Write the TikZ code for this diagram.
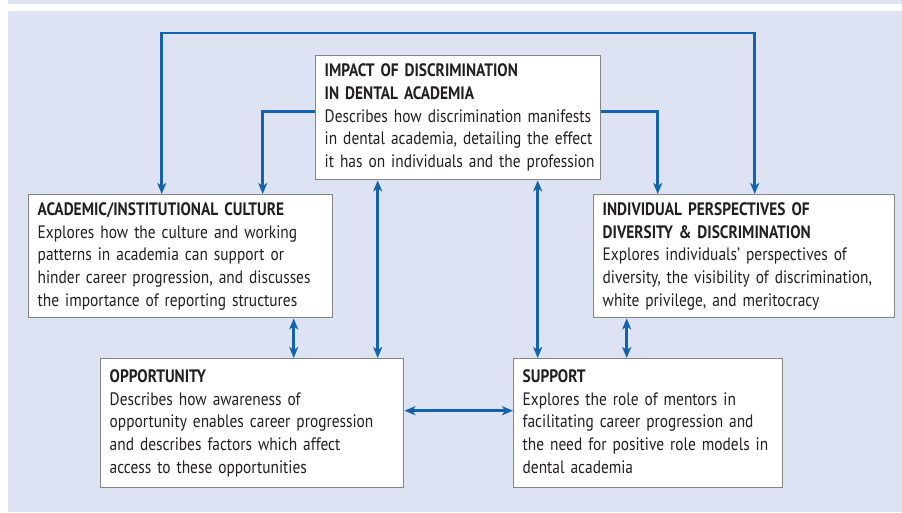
\documentclass[tikz,border=0pt]{standalone}
\usepackage{fontspec}
\setmainfont{PT Sans}[FakeStretch=0.855]
\usepackage{xcolor}
\usepackage{tikz}
\usetikzlibrary{arrows.meta}
\definecolor{panel}{RGB}{221,227,243}
\definecolor{linkblue}{RGB}{18,99,172}
\definecolor{boxgray}{RGB}{132,132,132}
\definecolor{ink}{RGB}{35,31,32}
\newcommand{\boxfont}{\fontsize{18}{22.7}\selectfont}
\newcommand{\lines}[1]{\begin{tabular}{@{}l@{}}#1\end{tabular}}
\tikzstyle{box} = [draw=boxgray, line width=1.4pt, fill=white, anchor=north west,
  inner xsep=9pt, inner ysep=0pt, text=ink, font=\boxfont]
\tikzstyle{link} = [draw=linkblue, line width=2.6pt,
  >={Stealth[length=11pt,width=9pt,inset=3pt]}]

\begin{document}
\begin{tikzpicture}[x=1pt, y=-1pt]
            \useasboundingbox (0,0) rectangle (902,512);
            \fill[panel] (8,0) rectangle (902,4);
            \fill[panel] (8,11) rectangle (902,512);

            \node[box, text width=267pt, minimum height=124pt] (impact) at (315,55)
                {\lines{\textbf{IMPACT OF DISCRIMINATION}\\ \textbf{IN DENTAL ACADEMIA}\\
                 Describes how discrimination manifests\\ in dental academia, detailing the effect\\
                 it has on individuals and the profession}};
            \node[box, text width=286pt, minimum height=123pt] (academic) at (28,194)
                {\lines{\textbf{ACADEMIC/INSTITUTIONAL CULTURE}\\ Explores how the culture and working\\
                 patterns in academia can support or\\ hinder career progression, and discusses\\
                 the importance of reporting structures}};
            \node[box, text width=283pt, minimum height=123pt] (individual) at (593,194)
                {\lines{\textbf{INDIVIDUAL PERSPECTIVES OF}\\ \textbf{DIVERSITY \& DISCRIMINATION}\\
                 Explores individuals’ perspectives of\\ diversity, the visibility of discrimination,\\
                 white privilege, and meritocracy}};
            \node[box, text width=285pt, minimum height=129pt] (opportunity) at (100,358)
                {\lines{\textbf{OPPORTUNITY}\\ Describes how awareness of\\
                 opportunity enables career progression\\ and describes factors which affect\\
                 access to these opportunities}};
            \node[box, text width=251pt, minimum height=129pt] (support) at (513,358)
                {\lines{\textbf{SUPPORT}\\ Explores the role of mentors in\\
                 facilitating career progression and\\ the need for positive role models in\\
                 dental academia}};

            \draw[link, <->] ([xshift=-19pt]academic.north) -- ++(0,-161) -| ([xshift=10.5pt]individual.north);
            \draw[link, ->] ([yshift=6pt]impact.west) -| ([xshift=82pt]academic.north);
            \draw[link, ->] ([yshift=6pt]impact.east) -| ([xshift=-86.5pt]individual.north);

            \draw[link, <->] ([xshift=-80.5pt]impact.south) -- ([xshift=-80.5pt]impact.south |- opportunity.north);
            \draw[link, <->] ([xshift=79.5pt]impact.south) -- ([xshift=79.5pt]impact.south |- support.north);
            \draw[link, <->] ([xshift=113pt]academic.south) -- ([xshift=113pt]academic.south |- opportunity.north);
            \draw[link, <->] ([xshift=-117.5pt]individual.south) -- ([xshift=-117.5pt]individual.south |- support.north);
            \draw[link, <->] ([yshift=12.5pt]opportunity.east) -- ([yshift=12.5pt]opportunity.east -| support.west);

        \end{tikzpicture}
\end{document}
